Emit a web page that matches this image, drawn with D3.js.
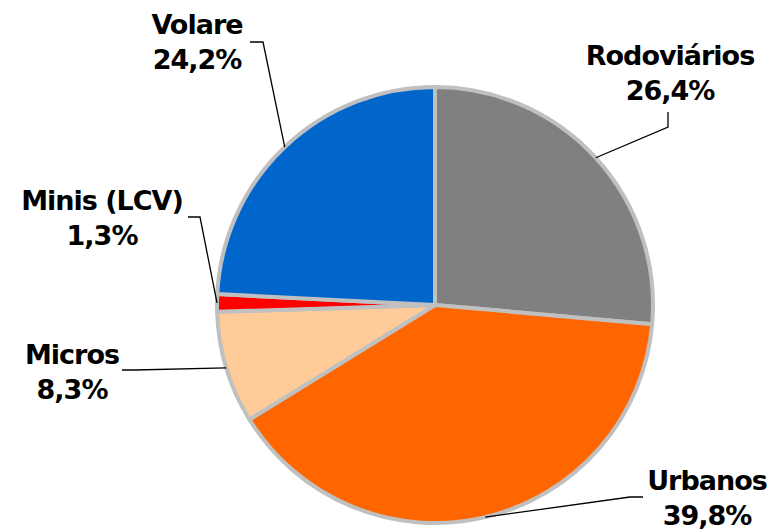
<!DOCTYPE html>
<html>
<head>
<meta charset="utf-8">
<script src="https://d3js.org/d3.v7.min.js"></script>
<style>
  body { margin: 0; background: #fff; }
  text { font-family: "DejaVu Sans", Verdana, sans-serif; font-weight: bold; font-size: 27px; letter-spacing: -1px; fill: #000; }
</style>
</head>
<body>
<div id="chart"></div>
<script>
// chart data
var categories = ["Rodoviários", "Urbanos", "Micros", "Minis (LCV)", "Volare"];
var shares = [26.4, 39.8, 8.3, 1.3, 24.2];
var colors = ["#808080", "#ff6600", "#ffcc99", "#ff0000", "#0066cc"];

// where each label sits: text centre x, first baseline y, and leader elbow
var labelPos = [
  { x: 670, y: 65, line: [[668, 112], [668, 127]] },
  { x: 707, y: 490, line: [[643, 497], [630, 497]] },
  { x: 72, y: 364, line: [[122, 370], [135, 370]] },
  { x: 102, y: 210, line: [[188, 217], [200, 217]] },
  { x: 197, y: 34, line: [[250, 42], [263, 42]] }
];

var width = 780, height = 531;
var cx = 435, cy = 305, r = 218;

var svg = d3.select("#chart").append("svg")
  .attr("width", width)
  .attr("height", height);

var data = categories.map(function (c, i) {
  return { name: c, value: shares[i], color: colors[i], pos: labelPos[i] };
});

var pie = d3.pie().sort(null).value(function (d) { return d.value; });
var arc = d3.arc().innerRadius(0).outerRadius(r);
var edge = d3.arc().innerRadius(r).outerRadius(r);

var arcs = pie(data);

var g = svg.append("g").attr("transform", "translate(" + cx + "," + cy + ")");

g.selectAll("path.slice")
  .data(arcs)
  .enter().append("path")
  .attr("class", "slice")
  .attr("d", arc)
  .attr("fill", function (d) { return d.data.color; })
  .attr("stroke", "#c0c0c0")
  .attr("stroke-width", 4)
  .attr("stroke-linejoin", "round");

// leader lines from the middle of each slice edge to the label
svg.selectAll("path.leader")
  .data(arcs)
  .enter().append("path")
  .attr("class", "leader")
  .attr("fill", "none")
  .attr("stroke", "#000")
  .attr("stroke-width", 1.3)
  .attr("d", function (d) {
    var c = edge.centroid(d);
    var pts = d.data.pos.line.concat([[cx + c[0], cy + c[1]]]);
    return d3.line()(pts);
  });

var fmt = function (v) { return v.toFixed(1).replace(".", ",") + "%"; };

var labels = svg.selectAll("text.lbl")
  .data(arcs)
  .enter().append("text")
  .attr("class", "lbl")
  .attr("text-anchor", "middle");

labels.append("tspan")
  .attr("x", function (d) { return d.data.pos.x; })
  .attr("y", function (d) { return d.data.pos.y; })
  .text(function (d) { return d.data.name; });

labels.append("tspan")
  .attr("x", function (d) { return d.data.pos.x; })
  .attr("y", function (d) { return d.data.pos.y + 35; })
  .text(function (d) { return fmt(d.data.value); });
</script>
</body>
</html>
